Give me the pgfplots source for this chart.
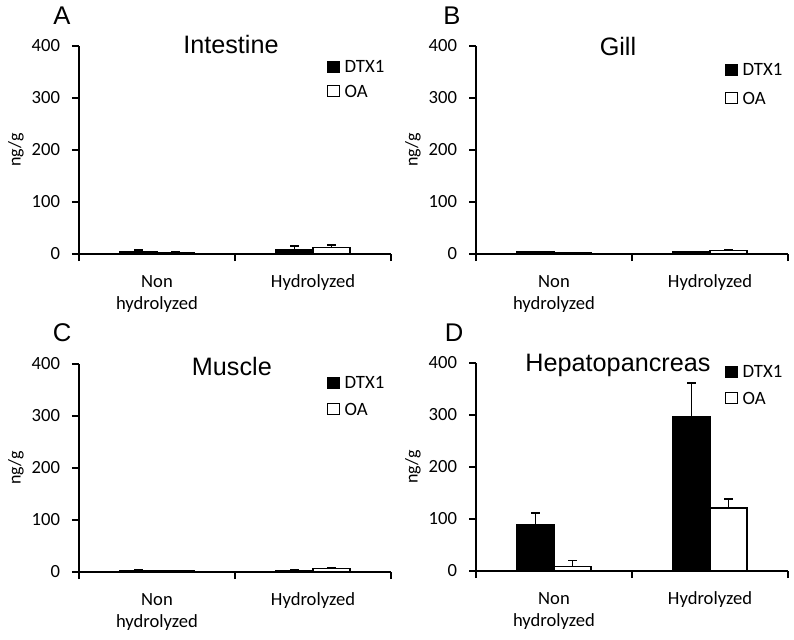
\documentclass[border=0pt]{standalone}
\usepackage{fontspec}
\setmainfont{Carlito}
\newfontfamily\arialf{Liberation Sans}
\usepackage{pgfplots}
\pgfplotsset{compat=1.18}
\pgfplotsset{
  panel/.style={
    scale only axis, width=156pt, height=104pt, anchor=south west,
    xmin=0, xmax=2, ymin=0, ymax=400,
    axis x line=bottom, axis y line=left,
    axis line style={line width=1pt, -, black},
    xtick={0,1,2}, xticklabels={,,},
    ytick={0,100,200,300,400},
    tick align=outside, major tick length=3.5pt,
    tick style={line width=0.8pt, black},
    /pgf/number format/assume math mode=true,
    tick label style={font=\fontsize{9.3}{11}\selectfont},
    yticklabel style={xshift=-2.5pt},
    extra x ticks={0.5,1.5},
    extra x tick labels={{Non\\hydrolyzed},{Hydrolyzed}},
    extra x tick style={major tick length=0pt, tick label style={align=center, anchor=north, yshift=-7pt, font=\fontsize{9.3}{11}\selectfont}},
    ylabel={ng/g},
    ylabel style={at={(axis description cs:-0.202,0.5)}, anchor=center, font=\fontsize{9}{11}\selectfont},
    every axis title shift=0pt,
    title style={anchor=center, font=\arialf\fontsize{12.6}{14}\selectfont},
    legend style={draw=none, fill=none, inner sep=0pt, anchor=west,
      font=\fontsize{9.4}{10}\selectfont,
      nodes={inner sep=0pt, text height=6pt, text depth=0pt},
      column sep=2.5pt},
    legend cell align=left,
  },
  sq/.style={legend image code/.code={\draw[line width=0.5pt, ##1] (0pt,-2.8pt) rectangle (5.6pt,2.8pt);}},
  ebars/.style={error bars/y dir=plus, error bars/y explicit, error bars/error mark=-,
    error bars/error bar style={line width=0.8pt, black},
    error bars/error mark options={line width=0.8pt, black, mark size=2.2pt, rotate=90}},
  dtx/.style={sq, ybar, bar width=0.237, bar shift=0, fill=black, draw=black, line width=0.6pt, ebars},
  oa/.style={sq, ybar, bar width=0.237, bar shift=0, fill=white, draw=black, line width=0.6pt, ebars},
}
\begin{document}
\begin{tikzpicture}
\useasboundingbox (0pt,0pt) rectangle (397pt,-319.5pt);
% Panel A
\begin{axis}[panel, at={(39.5pt,-127pt)},
  title={Intestine}, title style={at={(axis description cs:0.487,1.005)}},
  legend style={at={(axis description cs:0.795,0.841)}, row sep=6pt}]
\addplot[dtx] coordinates {(0.3815,5) +- (0,3) (1.3815,8) +- (0,7)};
\addplot[oa] coordinates {(0.6185,3) +- (0,2) (1.6185,12) +- (0,5)};
\legend{DTX1, OA}
\end{axis}
% Panel B
\begin{axis}[panel, at={(238pt,-127pt)},
  title={Gill}, title style={at={(axis description cs:0.455,1.0)}},
  legend style={at={(axis description cs:0.798,0.817)}, row sep=8pt}]
\addplot[dtx] coordinates {(0.3815,4) +- (0,1) (1.3815,4) +- (0,1)};
\addplot[oa] coordinates {(0.6185,2) +- (0,1) (1.6185,6) +- (0,3)};
\legend{DTX1, OA}
\end{axis}
% Panel C
\begin{axis}[panel, at={(39.5pt,-286pt)},
  title={Muscle}, title style={at={(axis description cs:0.49,0.99)}},
  legend style={at={(axis description cs:0.795,0.846)}, row sep=7pt}]
\addplot[dtx] coordinates {(0.3815,3) +- (0,1) (1.3815,3) +- (0,1)};
\addplot[oa] coordinates {(0.6185,2) +- (0,1) (1.6185,7) +- (0,2)};
\legend{DTX1, OA}
\end{axis}
% Panel D
\begin{axis}[panel, at={(238pt,-285.5pt)},
  title={Hepatopancreas}, title style={at={(axis description cs:0.455,0.986)}},
  legend style={at={(axis description cs:0.798,0.894)}, row sep=7pt}]
\addplot[dtx] coordinates {(0.3815,90) +- (0,22) (1.3815,297) +- (0,65)};
\addplot[oa] coordinates {(0.6185,8) +- (0,12) (1.6185,121) +- (0,18)};
\legend{DTX1, OA}
\end{axis}
% Panel letters
\node[font=\arialf\fontsize{12.8}{14}\selectfont] at (31pt,-8pt) {A};
\node[font=\arialf\fontsize{12.8}{14}\selectfont] at (226pt,-8pt) {B};
\node[font=\arialf\fontsize{12.8}{14}\selectfont] at (31pt,-166.5pt) {C};
\node[font=\arialf\fontsize{12.8}{14}\selectfont] at (227pt,-166.5pt) {D};
\end{tikzpicture}
\end{document}
